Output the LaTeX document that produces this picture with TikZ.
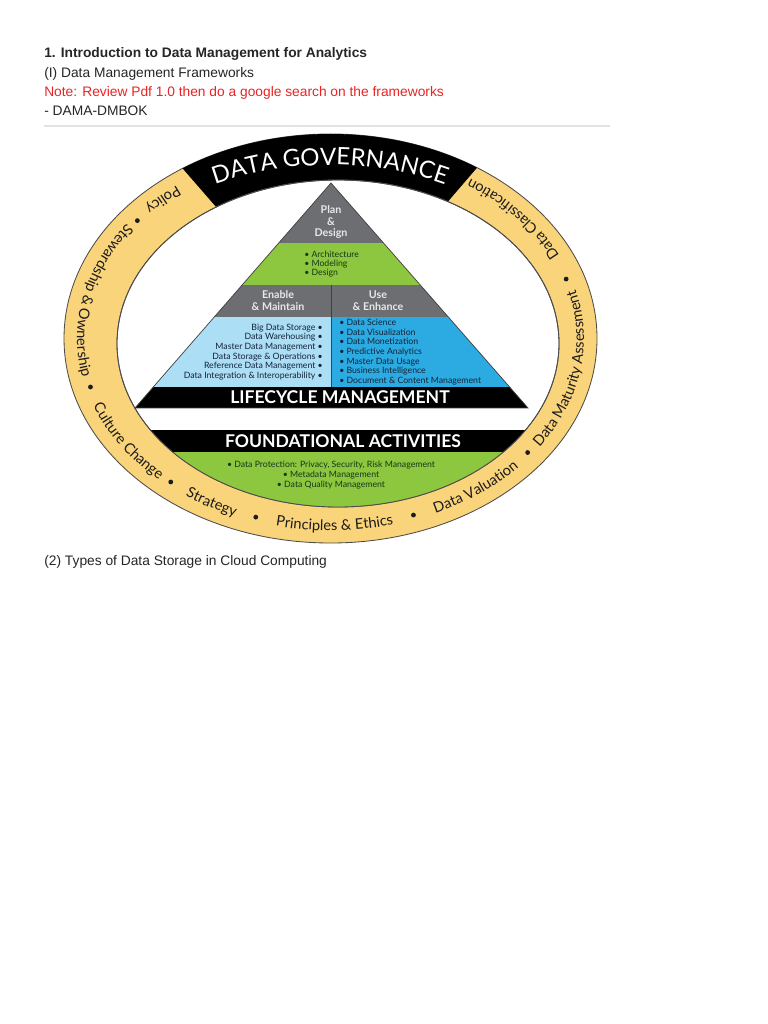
\documentclass[tikz,border=0pt]{standalone}
\usepackage{fontspec}
\setmainfont{Liberation Sans}
\newfontfamily\dgfont{Lato}
\usetikzlibrary{decorations.text}
\definecolor{dgyellow}{RGB}{250,212,122}
\definecolor{dggray}{RGB}{109,110,113}
\definecolor{dggreen}{RGB}{141,198,63}
\definecolor{dglblue}{RGB}{172,222,246}
\definecolor{dgblue}{RGB}{43,171,226}
\definecolor{dgred}{RGB}{232,36,36}
\definecolor{dgink}{RGB}{28,28,28}
\definecolor{dgnavy}{RGB}{20,35,55}
\definecolor{dgleaf}{RGB}{22,55,25}
\definecolor{dgpale}{RGB}{232,232,234}
\definecolor{dgrule}{RGB}{226,226,226}
\tikzset{
  docline/.style={anchor=base west,inner sep=0pt,text=black!85,font=\fontsize{9.8}{12}\selectfont},
  docttl/.style={docline,font=\fontsize{9.8}{12}\selectfont\bfseries},
  dghead/.style={align=center,inner sep=0pt,text=dgpale,font=\dgfont\bfseries\fontsize{7.6}{8.4}\selectfont},
  dglist/.style={inner sep=0pt,font=\dgfont\fontsize{6.2}{6.85}\selectfont},
  dgband/.style={inner sep=0pt,text=white,font=\dgfont\bfseries\fontsize{12.5}{14}\selectfont},
  dgedge/.style={draw=black!75,line width=0.5pt},
  ringline/.style={draw=black!70,line width=0.6pt},
  ringtxt/.style={decorate,decoration={text along path,text align=center,text color=dgink,
                  text={|\dgfont\fontsize{10.4}{12}\selectfont|#1}}},
  govtxt/.style={decorate,decoration={text along path,text align=center,text color=white,
                 text={|\dgfont\fontsize{17}{19}\selectfont|#1}}},
  ringdot/.style={fill=dgink},
}
\begin{document}
\begin{tikzpicture}[x=0.025cm,y=0.025cm]
  \fill[white] (0,0) rectangle (768,-1024);
  \useasboundingbox (0,0) rectangle (768,-1024);
  % page text
  \node[docttl] (ttl) at (44,-58) {1. Introduction to Data Management for Analytics};
  \node[docline] (sub) at (44,-78) {(I) Data Management Frameworks};
  \node[docline,text=dgred] (note) at (44,-97) {Note: Review Pdf 1.0 then do a google search on the frameworks};
  \node[docline] (dama) at (44,-116) {- DAMA-DMBOK};
  \draw[dgrule,line width=1.1pt] (44,-126) -- (610,-126);
  \node[docline] (nxt) at (44,-565) {(2) Types of Data Storage in Cloud Computing};

  % governance ring
  \filldraw[fill=dgyellow,ringline] (330.5,-338.5) ellipse [x radius=266.5,y radius=204.5];
  \begin{scope}
    \clip (330.5,-338.5) -- (37,-1) -- (620,-1) -- cycle;
    \fill[black] (330.5,-338.5) ellipse [x radius=266.5,y radius=204.5];
  \end{scope}
  \filldraw[fill=white,ringline] (338,-343.5) ellipse [x radius=221,y radius=163.5];

  % foundational activities
  \begin{scope}
    \clip (338,-343.5) ellipse [x radius=221,y radius=163.5];
    \fill[black] (100,-430) rectangle (600,-452);
    \fill[dggreen] (100,-452) rectangle (600,-520);
  \end{scope}
  \draw[ringline] (338,-343.5) ellipse [x radius=221,y radius=163.5];

  % pyramid
  \begin{scope}
    \clip (331,-183) -- (135,-408) -- (528,-408) -- cycle;
    \fill[dggray] (100,-183) rectangle (560,-243);
    \fill[dggreen] (100,-243) rectangle (560,-285);
    \fill[dggray] (100,-285) rectangle (560,-317);
    \fill[dglblue] (100,-317) rectangle (331,-387);
    \fill[dgblue] (331,-317) rectangle (560,-387);
    \fill[black] (100,-387) rectangle (560,-408);
  \end{scope}
  \draw[dgedge] (331,-285) -- (331,-387);
  \draw[dgedge] (331,-183) -- (135,-408) -- (528,-408) -- cycle;

  \node[dghead] (plan) at (331,-222) {Plan\\\&\\Design};
  \node[dglist,text=dgleaf,align=left,anchor=west,font=\dgfont\fontsize{6.2}{6.4}\selectfont] (arch) at (304,-264)
    {• Architecture\\• Modeling\\• Design};
  \node[dghead,font=\dgfont\bfseries\fontsize{7.6}{8.5}\selectfont] (enab) at (278,-301) {Enable\\\& Maintain};
  \node[dghead,font=\dgfont\bfseries\fontsize{7.6}{8.5}\selectfont] (use) at (378,-301) {Use\\\& Enhance};
  \node[dglist,text=dgnavy,align=right,anchor=east] (stor) at (323,-352)
    {Big Data Storage •\\Data Warehousing •\\Master Data Management •\\Data Storage \& Operations •\\
     Reference Data Management •\\Data Integration \& Interoperability •};
  \node[dglist,text=dgnavy,align=left,anchor=west] (anal) at (339,-352)
    {• Data Science\\• Data Visualization\\• Data Monetization\\• Predictive Analytics\\
     • Master Data Usage\\• Business Intelligence\\• Document \& Content Management};
  \node[dgband] (life) at (340,-397.5) {LIFECYCLE MANAGEMENT};
  \node[dgband] (fnd) at (343,-441) {FOUNDATIONAL ACTIVITIES};
  \node[dglist,text=dgleaf,align=center,font=\dgfont\fontsize{6.2}{7.1}\selectfont] (prot) at (331,-475)
    {• Data Protection: Privacy, Security, Risk Management\\• Metadata Management\\• Data Quality Management};

  % ring labels
  \path[govtxt={DATA GOVERNANCE}] ([shift={(330,-345)}]125:255 and 180) arc[start angle=125,end angle=55,x radius=255,y radius=180];
  \begin{scope}[shift={(330.5,-338.5)}]
    \path[ringtxt=Policy] (113:253.5 and 192) arc[start angle=113,end angle=153,x radius=253.5,y radius=192];
    \path[ringtxt={Stewardship {\&} Ownership}] (136:253.5 and 192) arc[start angle=136,end angle=200,x radius=253.5,y radius=192];
    \path[ringtxt={Culture Change}] (188:253.5 and 192) arc[start angle=188,end angle=238,x radius=253.5,y radius=192];
    \path[ringtxt=Strategy] (223:253.5 and 192) arc[start angle=223,end angle=259,x radius=253.5,y radius=192];
    \path[ringtxt={Principles {\&} Ethics}] (246:253.5 and 192) arc[start angle=246,end angle=296,x radius=253.5,y radius=192];
    \path[ringtxt={Data Valuation}] (284:253.5 and 192) arc[start angle=284,end angle=330,x radius=253.5,y radius=192];
    \path[ringtxt={Data Maturity Assessment}] (318.5:253.5 and 192) arc[start angle=318.5,end angle=382.5,x radius=253.5,y radius=192];
    \path[ringtxt={Data Classification}] (374:253.5 and 192) arc[start angle=374,end angle=426,x radius=253.5,y radius=192];
    \foreach \a in {141,195,230,252.5,289.5,322.5,378.5}
      \fill[ringdot] (\a:248.5 and 187.3) circle (2.4);
  \end{scope}
\end{tikzpicture}
\end{document}
